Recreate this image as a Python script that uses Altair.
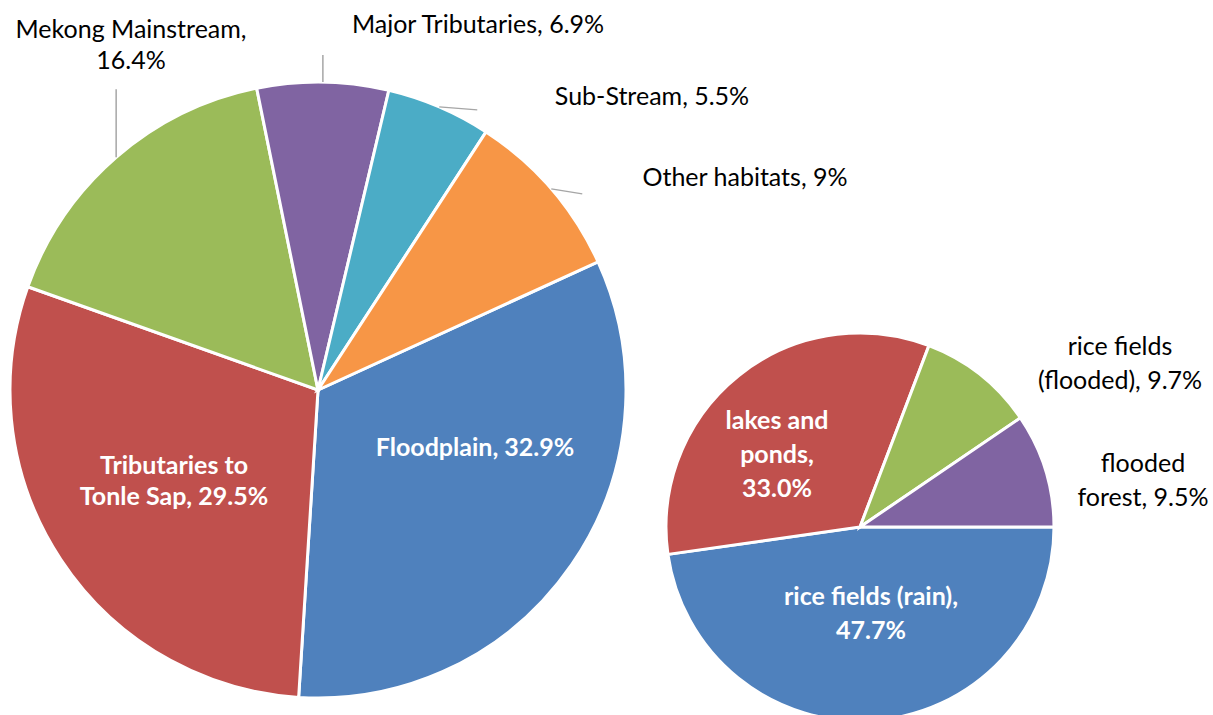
import math

import altair as alt
import pandas as pd

W, H = 1213, 715

# Share of fish catch by habitat (%), main pie
HABITATS = ["Floodplain", "Tributaries to Tonle Sap", "Mekong Mainstream",
            "Major Tributaries", "Sub-Stream", "Other habitats"]
HABITAT_SHARE = [32.9, 29.5, 16.4, 6.9, 5.5, 9.0]
HABITAT_LABELS = ["Floodplain, 32.9%", "Tributaries to\nTonle Sap, 29.5%",
                  "Mekong Mainstream,\n16.4%", "Major Tributaries, 6.9%",
                  "Sub-Stream, 5.5%", "Other habitats, 9%"]

# Breakdown of the floodplain share (%), secondary pie
FLOODPLAIN = ["rice fields (rain)", "lakes and ponds",
              "rice fields (flooded)", "flooded forest"]
FLOODPLAIN_SHARE = [47.7, 33.0, 9.7, 9.5]
FLOODPLAIN_LABELS = ["rice fields (rain),\n47.7%", "lakes and\nponds,\n33.0%",
                     "rice fields\n(flooded), 9.7%", "flooded\nforest, 9.5%"]

PALETTE = ["#4F81BD", "#C0504D", "#9BBB59", "#8064A2", "#4BACC6", "#F79646"]
FONT = "Lato"
FONT_SIZE = 25
LEADER = "#A6A6A6"

# pie geometry: centre, radius and angle (deg, clockwise from 12 o'clock)
# where the first slice begins
BIG = dict(cx=318, cy=390, r=308, start=65.4)
SMALL = dict(cx=860, cy=527, r=194, start=90.0)

# label block centres as offsets from the pie centre, and whether the
# label sits inside its slice
BIG_LABELS = {
    "Floodplain": (157, 58, True),
    "Tributaries to Tonle Sap": (-144, 91, True),
    "Mekong Mainstream": (-187, -345, False),
    "Major Tributaries": (160, -365, False),
    "Sub-Stream": (334, -293, False),
    "Other habitats": (427, -212, False),
}
SMALL_LABELS = {
    "rice fields (rain)": (11, 87, True),
    "lakes and ponds": (-83, -72, True),
    "rice fields (flooded)": (260, -163, False),
    "flooded forest": (283, -46, False),
}
# leader lines: offset of the free end from the slice's rim midpoint
BIG_LEADERS = {
    "Mekong Mainstream": (0, -68),
    "Major Tributaries": (0, -27),
    "Sub-Stream": (38, 3),
    "Other habitats": (31, 5),
}


def pie(names, shares, labels, geo, label_pos, leaders, line_height):
    n = len(names)
    total = sum(shares)
    df = pd.DataFrame({"name": names, "share": shares, "label": labels,
                       "order": list(range(n))})
    a0 = math.radians(geo["start"])

    arcs = alt.Chart(df).mark_arc(
        radius=geo["r"], stroke="white", strokeWidth=3
    ).encode(
        theta=alt.Theta("share:Q", stack=True,
                        scale=alt.Scale(range=[a0, a0 + 2 * math.pi])),
        order=alt.Order("order:Q"),
        color=alt.Color("name:N", legend=None,
                        scale=alt.Scale(domain=names, range=PALETTE[:n])),
        x=alt.value(geo["cx"]),
        y=alt.value(geo["cy"]),
    )

    # label positions: the first line is anchored, so lift multi-line
    # labels by half their extra height to centre the block
    rows = []
    for name, label in zip(names, labels):
        dx, dy, inside = label_pos[name]
        extra = (label.count("\n")) * line_height / 2
        rows.append({"label": label, "x": geo["cx"] + dx,
                     "y": geo["cy"] + dy - extra, "inside": inside})
    ldf = pd.DataFrame(rows)
    enc = dict(x=alt.X("x:Q", scale=None), y=alt.Y("y:Q", scale=None),
               text=alt.Text("label:N"))
    inner = alt.Chart(ldf[ldf["inside"]]).mark_text(
        font=FONT, fontSize=FONT_SIZE, fontWeight="bold", color="white",
        lineBreak="\n", lineHeight=line_height, align="center",
        baseline="middle").encode(**enc)
    outer = alt.Chart(ldf[~ldf["inside"]]).mark_text(
        font=FONT, fontSize=FONT_SIZE, color="black",
        lineBreak="\n", lineHeight=line_height, align="center",
        baseline="middle").encode(**enc)

    layers = [arcs, inner, outer]

    # leader lines from each slice's rim midpoint
    if leaders:
        cum = 0.0
        lrows = []
        for name, share in zip(names, shares):
            mid = a0 + 2 * math.pi * (cum + share / 2) / total
            cum += share
            if name in leaders:
                ex = geo["cx"] + geo["r"] * math.sin(mid)
                ey = geo["cy"] - geo["r"] * math.cos(mid)
                ox, oy = leaders[name]
                lrows.append({"x": ex, "y": ey, "x2": ex + ox, "y2": ey + oy})
        rules = alt.Chart(pd.DataFrame(lrows)).mark_rule(
            color=LEADER, strokeWidth=1.5
        ).encode(
            x=alt.X("x:Q", scale=None), y=alt.Y("y:Q", scale=None),
            x2="x2:Q", y2="y2:Q",
        )
        layers.insert(1, rules)
    return layers


big = pie(HABITATS, HABITAT_SHARE, HABITAT_LABELS, BIG, BIG_LABELS,
          BIG_LEADERS, 31)
small = pie(FLOODPLAIN, FLOODPLAIN_SHARE, FLOODPLAIN_LABELS, SMALL,
            SMALL_LABELS, None, 34)

chart = alt.layer(*big, *small).resolve_scale(
    theta="independent", color="independent"
).properties(
    width=W, height=H, padding=0, autosize="none"
).configure_view(strokeWidth=0)

chart.save("out.html", embed_options={"renderer": "svg", "actions": False})
